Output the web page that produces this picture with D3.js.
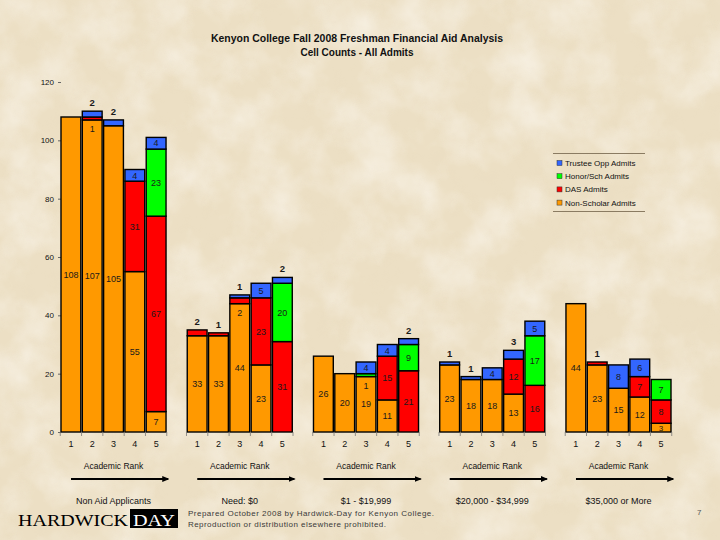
<!DOCTYPE html>
<html><head><meta charset="utf-8">
<script src="https://cdn.jsdelivr.net/npm/d3@7"></script>
<style>
html,body{margin:0;padding:0;background:#eee2c8;}
svg{display:block;}
text{font-family:"Liberation Sans",Arial,sans-serif;}
</style></head>
<body>
<script>
// ---- data ----
const groups = ["Non Aid Applicants","Need: $0","$1 - $19,999","$20,000 - $34,999","$35,000 or More"];
const ranks = ["1","2","3","4","5"];
const seriesKeys = ["nonScholar","das","honor","trustee"];
const seriesNames = ["Non-Scholar Admits","DAS Admits","Honor/Sch Admits","Trustee Opp Admits"];
const seriesColors = ["#ff9900","#ff0000","#00ff00","#3366ff"];
// values[group][rank]
const nonScholar = [[108,107,105,55,7],[33,33,44,23,0],[26,20,19,11,0],[23,18,18,13,0],[44,23,15,12,3]];
const das        = [[0,1,0,31,67],[2,1,2,23,31],[0,0,0,15,21],[0,0,0,12,16],[0,1,0,7,8]];
const honor      = [[0,0,0,0,23],[0,0,0,0,20],[0,0,1,0,9],[0,0,0,0,17],[0,0,0,0,7]];
const trustee    = [[0,2,2,4,4],[0,0,1,5,2],[0,0,4,4,2],[1,1,4,3,5],[0,0,8,6,0]];
const yTicks = [0,20,40,60,80,100,120];
const titleLines = ["Kenyon College Fall 2008 Freshman Financial Aid Analysis","Cell Counts - All Admits"];
const axisTitle = "Academic Rank";
const footerLines = ["Prepared October 2008 by Hardwick-Day for Kenyon College.","Reproduction or distribution elsewhere prohibited."];
const pageNumber = "7";

const W = 720, H = 540;
const svg = d3.select("body").append("svg").attr("width", W).attr("height", H);
const defs = svg.append("defs");

// parchment texture
const f = defs.append("filter").attr("id","paper").attr("x",0).attr("y",0).attr("width","100%").attr("height","100%");
f.append("feTurbulence").attr("type","fractalNoise").attr("baseFrequency","0.02").attr("numOctaves",4).attr("seed",7).attr("result","n");
f.append("feColorMatrix").attr("in","n").attr("type","matrix")
  .attr("values","0 0 0 0 1  0 0 0 0 0.98  0 0 0 0 0.94  1.3 0 0 0 -0.5");
const f2 = defs.append("filter").attr("id","paper2").attr("x",0).attr("y",0).attr("width","100%").attr("height","100%");
f2.append("feTurbulence").attr("type","fractalNoise").attr("baseFrequency","0.06").attr("numOctaves",3).attr("seed",2).attr("result","n");
f2.append("feColorMatrix").attr("in","n").attr("type","matrix")
  .attr("values","0 0 0 0 0.75  0 0 0 0 0.64  0 0 0 0 0.46  -1.2 0 0 0 0.62");

svg.append("rect").attr("width",W).attr("height",H).attr("fill","#ecdfc4");
svg.append("rect").attr("width",W).attr("height",H).attr("filter","url(#paper)").attr("opacity",0.8);
svg.append("rect").attr("width",W).attr("height",H).attr("filter","url(#paper2)").attr("opacity",0.15);

// arrow marker
defs.append("marker").attr("id","arr").attr("viewBox","0 0 10 10").attr("refX",8).attr("refY",5)
  .attr("markerWidth",4).attr("markerHeight",4).attr("orient","auto")
  .append("path").attr("d","M0,1 L10,5 L0,9 Z").attr("fill","#000");

// scales
const y = d3.scaleLinear().domain([0,120]).range([432,82]);
const gx = d3.scaleBand().domain(groups).range([61,671]).paddingInner(0.168).paddingOuter(0);
const bx = d3.scaleBand().domain(ranks).range([0,gx.bandwidth()]).paddingInner(0.07);

// title
svg.append("g").selectAll("text").data(titleLines).join("text")
  .attr("x",357).attr("y",(d,i)=>42+i*14).attr("text-anchor","middle")
  .attr("textLength",(d,i)=>i===0?292:113).attr("lengthAdjust","spacingAndGlyphs")
  .style("font-weight","bold").style("font-size","11px").attr("fill","#111").text(d=>d);

// y axis
const yAxis = svg.append("g").attr("transform","translate(61,0)")
  .call(d3.axisLeft(y).tickValues(yTicks).tickSize(3).tickPadding(4));
yAxis.select(".domain").remove();
yAxis.selectAll("line").attr("stroke","#666");
yAxis.selectAll("text").style("font-size","8px").attr("fill","#111");

// data table
const vals = {nonScholar, das, honor, trustee};
const stack = d3.stack().keys(seriesKeys);

groups.forEach((g,gi)=>{
  const rows = ranks.map((r,ri)=>{
    const o = {rank:r};
    seriesKeys.forEach(k=>o[k]=vals[k][gi][ri]);
    return o;
  });
  const layers = stack(rows);
  const G = svg.append("g").attr("transform",`translate(${gx(g)},0)`);

  // bars
  layers.forEach((layer,si)=>{
    G.append("g").selectAll("rect").data(layer.filter(d=>d[1]-d[0]>0)).join("rect")
      .attr("x",d=>bx(d.data.rank)).attr("width",bx.bandwidth())
      .attr("y",d=>y(d[1])).attr("height",d=>y(d[0])-y(d[1]))
      .attr("fill",seriesColors[si]).attr("stroke","#000").attr("stroke-width",1.4);
  });

  // labels
  layers.forEach((layer,si)=>{
    layer.forEach(d=>{
      const v = d[1]-d[0];
      if (v<=0) return;
      const cx = bx(d.data.rank)+bx.bandwidth()/2;
      const total = d3.sum(seriesKeys,k=>d.data[k]);
      const isTop = d[1]===total;
      let ty, bold=false;
      if (v>=4 || d[0]===0) { ty = (y(d[0])+y(d[1]))/2 + 3.2; }
      else if (isTop) { ty = y(d[1]) - 5; bold=true; }
      else { ty = y(d[0]) + 12; }
      G.append("text").attr("x",cx).attr("y",ty).attr("text-anchor","middle")
        .style("font-size", bold ? "9.5px" : (v>=4||d[0]!==0 ? "9px" : "8px")).style("font-weight", bold ? "bold" : "normal")
        .attr("fill","#1a1a1a").text(v);
    });
  });

  // x axis labels
  const xa = G.append("g").attr("transform","translate(0,432)")
    .call(d3.axisBottom(bx).tickSize(0).tickPadding(9));
  xa.select(".domain").remove();
  xa.selectAll("text").style("font-size","9px").attr("fill","#111");
  // boundary ticks
  const half = (bx.step()-bx.bandwidth())/2;
  const bounds = ranks.map(r=>bx(r)-half).concat([bx(ranks[4])+bx.bandwidth()+half]);
  G.append("g").selectAll("line").data(bounds).join("line")
    .attr("x1",d=>d).attr("x2",d=>d).attr("y1",432).attr("y2",436)
    .attr("stroke","#777").attr("stroke-width",0.8);

  // axis title + arrow + group name
  const w = gx.bandwidth();
  G.append("text").attr("x",w/2).attr("y",469).attr("text-anchor","middle")
    .style("font-size","8.5px").attr("fill","#111").text(axisTitle);
  G.append("line").attr("x1",10).attr("x2",w+2).attr("y1",479).attr("y2",479)
    .attr("stroke","#000").attr("stroke-width",1.8).attr("marker-end","url(#arr)");
  G.append("text").attr("x",w/2).attr("y",504).attr("text-anchor","middle")
    .style("font-size","9px").attr("fill","#111").text(g);
});

// legend
const lg = svg.append("g").attr("transform","translate(553,153)");
lg.append("line").attr("x1",0).attr("x2",92).attr("y1",0.5).attr("y2",0.5).attr("stroke","#8a7b62");
lg.append("line").attr("x1",0).attr("x2",92).attr("y1",58.5).attr("y2",58.5).attr("stroke","#8a7b62");
const legendOrder = [3,2,1,0];
const li = lg.selectAll("g.item").data(legendOrder).join("g").attr("class","item")
  .attr("transform",(d,i)=>`translate(0,${10+i*13.2})`);
li.append("rect").attr("x",4).attr("y",-2.5).attr("width",5).attr("height",5)
  .attr("fill",d=>seriesColors[d]).attr("stroke","#333").attr("stroke-width",0.5);
li.append("text").attr("x",12).attr("y",3).style("font-size","8px").attr("fill","#111")
  .text(d=>seriesNames[d]);

// footer logo
svg.append("text").attr("x",18).attr("y",526).attr("textLength",110).attr("lengthAdjust","spacingAndGlyphs")
  .style("font-family",'"Liberation Serif","DejaVu Serif",serif').style("font-size","17px").attr("fill","#000").text("HARDWICK");
svg.append("rect").attr("x",130).attr("y",509).attr("width",48).attr("height",19).attr("fill","#000");
svg.append("text").attr("x",133).attr("y",526).attr("textLength",42).attr("lengthAdjust","spacingAndGlyphs")
  .style("font-family",'"Liberation Serif","DejaVu Serif",serif').style("font-size","17px").attr("fill","#fff").text("DAY");

svg.append("g").selectAll("text").data(footerLines).join("text")
  .attr("x",188).attr("y",(d,i)=>516+i*11)
  .attr("textLength",(d,i)=>i===0?246:198).attr("lengthAdjust","spacing")
  .style("font-size","8px").attr("fill","#3a3a3a").text(d=>d);

svg.append("text").attr("x",697).attr("y",515).style("font-size","8px").attr("fill","#555").text(pageNumber);
</script>
</body></html>
